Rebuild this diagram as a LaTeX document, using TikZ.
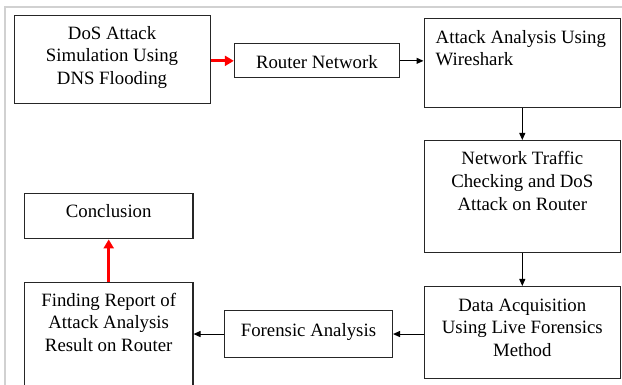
\documentclass[tikz,border=0pt]{standalone}
\usepackage{fontspec}
\setmainfont{LiberationSerif}[Extension=.ttf,UprightFont=*-Regular,BoldFont=*-Bold]
\usetikzlibrary{arrows.meta,calc}

\begin{document}
\begin{tikzpicture}[x=1pt,y=-1pt,
  box/.style={draw=black!85,line width=1.1pt,inner sep=0pt,anchor=north west},
  txt/.style={inner sep=0pt,font=\rmfamily\fontsize{18.8}{22.7}\selectfont},
  flow/.style={draw=black,line width=1pt,-{Triangle[length=7pt,width=6pt]}},
  redflow/.style={draw=red,line width=3pt,-{Triangle[length=9pt,width=10pt]}},
  frame/.style={draw=black!18,line width=2pt}]

\clip (0,0) rectangle (622,385);

% light page frame
\coordinate (fa) at (5,385);
\coordinate (fb) at (5,7);
\coordinate (fc) at (622,7);
\draw[frame] (fa) -- (fb) -- (fc);

% process boxes
\node[box,minimum width=196pt,minimum height=88pt]  (dos)   at (13.5,14.7)  {};
\node[box,minimum width=165pt,minimum height=34pt]  (rtr)   at (233.8,43.3) {};
\node[box,minimum width=196.5pt,minimum height=88.4pt] (ana) at (423.5,18.3) {};
\node[box,minimum width=196.5pt,minimum height=112pt] (chk) at (423.5,140)  {};
\node[box,minimum width=196.5pt,minimum height=91.7pt] (acq) at (423.5,286) {};
\node[box,minimum width=168pt,minimum height=46.4pt] (for)  at (223.9,310.3) {};
\node[box,minimum width=168.5pt,minimum height=130pt] (rep) at (23.9,281.7) {};
\node[box,minimum width=168.5pt,minimum height=45pt] (con)  at (23.9,193.3) {};

% box texts, first baseline 25pt below the top edge
\node[txt,anchor=base] (dos-t) at ($(dos.north)+(0,24.6)$)
  {\begin{tabular}[t]{@{}c@{}}DoS Attack\\Simulation Using\\DNS Flooding\end{tabular}};
\node[txt,anchor=base] (rtr-t) at ($(rtr.north)+(0,25)$) {Router Network};
\node[txt,anchor=base west] (ana-t) at ($(ana.north west)+(12,25)$)
  {\begin{tabular}[t]{@{}l@{}}Attack Analysis Using\\Wireshark\end{tabular}};
\node[txt,anchor=base] (chk-t) at ($(chk.north)+(0,25)$)
  {\begin{tabular}[t]{@{}c@{}}Network Traffic\\Checking and DoS\\Attack on Router\end{tabular}};
\node[txt,anchor=base] (acq-t) at ($(acq.north)+(0,25)$)
  {\begin{tabular}[t]{@{}c@{}}Data Acquisition\\Using Live Forensics\\Method\end{tabular}};
\node[txt,anchor=base] (for-t) at ($(for.north)+(0,25.7)$) {Forensic Analysis};
\node[txt,anchor=base] (rep-t) at ($(rep.north)+(0,24.3)$)
  {\begin{tabular}[t]{@{}c@{}}Finding Report of\\Attack Analysis\\Result on Router\end{tabular}};
\node[txt,anchor=base] (con-t) at ($(con.north)+(0,24)$) {Conclusion};

% connectors
\draw[redflow] (rtr.west -| dos.east) -- (rtr.west);
\draw[flow] (rtr.east) -- (rtr.east -| ana.west);
\draw[flow] (ana.south) -- (chk.north);
\draw[flow] (chk.south) -- (acq.north);
\draw[flow] (for.east -| acq.west) -- (for.east);
\draw[flow] (for.west) -- (for.west -| rep.east);
\draw[redflow] (rep.north) -- (con.south);

\end{tikzpicture}
\end{document}
